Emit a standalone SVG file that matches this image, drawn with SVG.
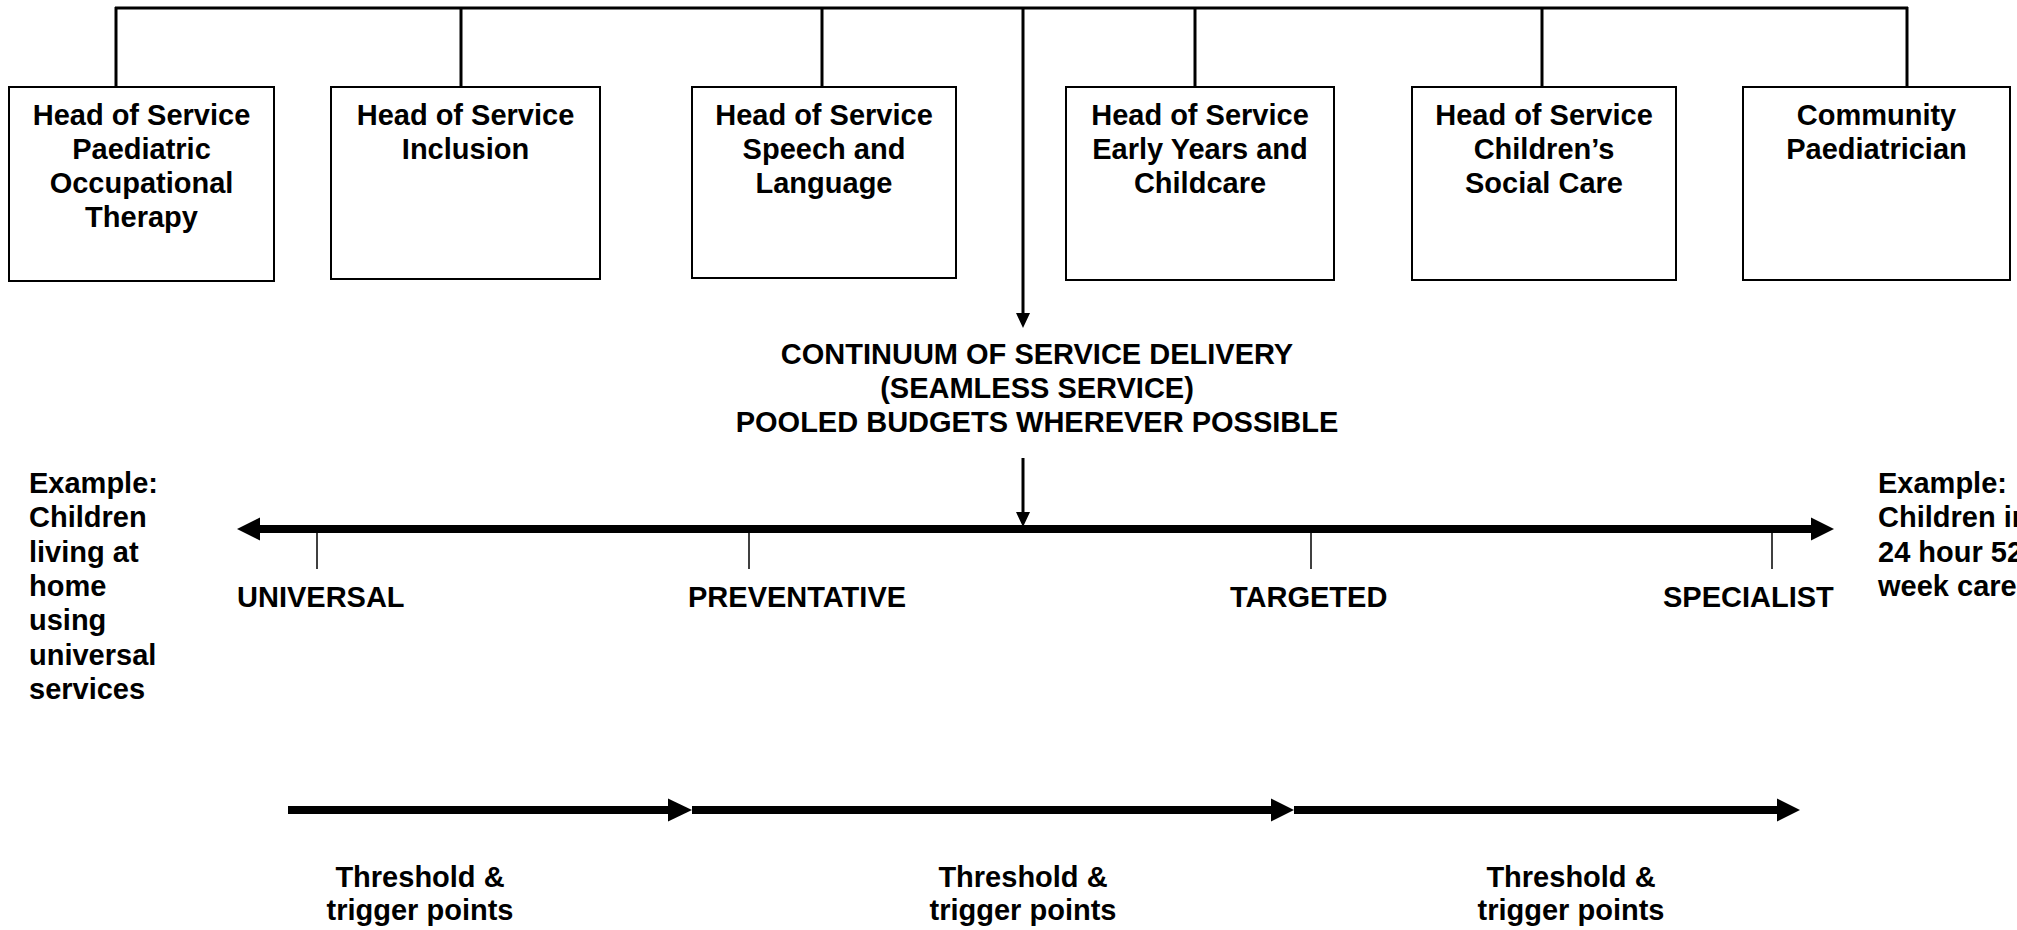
<svg xmlns="http://www.w3.org/2000/svg" width="2017" height="930" viewBox="0 0 2017 930">
<style>
  .box { fill: #fff; stroke: #000; stroke-width: 2; }
  .t { font-family: "Liberation Sans", Arial, sans-serif; font-weight: bold; font-size: 29px; fill: #000; }
  .c { text-anchor: middle; }
  .wire { stroke: #000; stroke-width: 3; fill: none; }
  .thick { stroke: #000; stroke-width: 8; fill: none; }
  .tick { stroke: #000; stroke-width: 1.5; fill: none; }
  .head { fill: #000; stroke: none; }
</style>
<rect width="2017" height="930" fill="#fff"/>
<g id="connectors">
  <line class="wire" x1="115" y1="8" x2="1908" y2="8"/>
  <line class="wire" x1="116" y1="7" x2="116" y2="87"/>
  <line class="wire" x1="461" y1="7" x2="461" y2="87"/>
  <line class="wire" x1="822" y1="7" x2="822" y2="87"/>
  <line class="wire" x1="1195" y1="7" x2="1195" y2="87"/>
  <line class="wire" x1="1542" y1="7" x2="1542" y2="87"/>
  <line class="wire" x1="1907" y1="7" x2="1907" y2="87"/>
  <line class="wire" x1="1023" y1="7" x2="1023" y2="316"/>
  <polygon class="head" points="1016,313 1030,313 1023,328"/>
  <line class="wire" x1="1023" y1="458" x2="1023" y2="516"/>
  <polygon class="head" points="1016,512 1030,512 1023,527"/>
  <line class="thick" x1="258" y1="529" x2="1813" y2="529"/>
  <polygon class="head" points="237,529 260,517.5 260,540.5"/>
  <polygon class="head" points="1834,529 1811,517.5 1811,540.5"/>
  <line class="tick" x1="317" y1="533" x2="317" y2="569"/>
  <line class="tick" x1="749" y1="533" x2="749" y2="569"/>
  <line class="tick" x1="1311" y1="533" x2="1311" y2="569"/>
  <line class="tick" x1="1772" y1="533" x2="1772" y2="569"/>
  <line class="thick" x1="288" y1="810" x2="670" y2="810"/>
  <polygon class="head" points="692,810 668,798.5 668,821.5"/>
  <line class="thick" x1="692" y1="810" x2="1274" y2="810"/>
  <polygon class="head" points="1294,810 1271,798.5 1271,821.5"/>
  <line class="thick" x1="1294" y1="810" x2="1779" y2="810"/>
  <polygon class="head" points="1800,810 1777,798.5 1777,821.5"/>
</g>
<g id="node-ot">
  <rect class="box" x="9" y="87" width="265" height="194"/>
  <text class="t c" x="141.5" y="125">Head of Service</text>
  <text class="t c" x="141.5" y="159">Paediatric</text>
  <text class="t c" x="141.5" y="193">Occupational</text>
  <text class="t c" x="141.5" y="227">Therapy</text>
</g>
<g id="node-inclusion">
  <rect class="box" x="331" y="87" width="269" height="192"/>
  <text class="t c" x="465.5" y="125">Head of Service</text>
  <text class="t c" x="465.5" y="159">Inclusion</text>
</g>
<g id="node-speech">
  <rect class="box" x="692" y="87" width="264" height="191"/>
  <text class="t c" x="824" y="125">Head of Service</text>
  <text class="t c" x="824" y="159">Speech and</text>
  <text class="t c" x="824" y="193">Language</text>
</g>
<g id="node-earlyyears">
  <rect class="box" x="1066" y="87" width="268" height="193"/>
  <text class="t c" x="1200" y="125">Head of Service</text>
  <text class="t c" x="1200" y="159">Early Years and</text>
  <text class="t c" x="1200" y="193">Childcare</text>
</g>
<g id="node-social">
  <rect class="box" x="1412" y="87" width="264" height="193"/>
  <text class="t c" x="1544" y="125">Head of Service</text>
  <text class="t c" x="1544" y="159">Children’s</text>
  <text class="t c" x="1544" y="193">Social Care</text>
</g>
<g id="node-paed">
  <rect class="box" x="1743" y="87" width="267" height="193"/>
  <text class="t c" x="1876.5" y="125">Community</text>
  <text class="t c" x="1876.5" y="159">Paediatrician</text>
</g>
<g id="node-continuum">
  <text class="t c" x="1037" y="364">CONTINUUM OF SERVICE DELIVERY</text>
  <text class="t c" x="1037" y="398">(SEAMLESS SERVICE)</text>
  <text class="t c" x="1037" y="432">POOLED BUDGETS WHEREVER POSSIBLE</text>
</g>
<g id="node-example-left">
  <text class="t" x="29" y="493">Example:</text>
  <text class="t" x="29" y="527">Children</text>
  <text class="t" x="29" y="562">living at</text>
  <text class="t" x="29" y="596">home</text>
  <text class="t" x="29" y="630">using</text>
  <text class="t" x="29" y="665">universal</text>
  <text class="t" x="29" y="699">services</text>
</g>
<g id="node-example-right">
  <text class="t" x="1878" y="493">Example:</text>
  <text class="t" x="1878" y="527">Children in</text>
  <text class="t" x="1878" y="562">24 hour 52</text>
  <text class="t" x="1878" y="596">week care</text>
</g>
<g id="node-levels">
  <text class="t" x="237" y="607">UNIVERSAL</text>
  <text class="t" x="688" y="607">PREVENTATIVE</text>
  <text class="t" x="1230" y="607">TARGETED</text>
  <text class="t" x="1663" y="607">SPECIALIST</text>
</g>
<g id="node-thresholds">
  <text class="t c" x="420" y="887">Threshold &amp;</text>
  <text class="t c" x="420" y="920">trigger points</text>
  <text class="t c" x="1023" y="887">Threshold &amp;</text>
  <text class="t c" x="1023" y="920">trigger points</text>
  <text class="t c" x="1571" y="887">Threshold &amp;</text>
  <text class="t c" x="1571" y="920">trigger points</text>
</g>
</svg>
